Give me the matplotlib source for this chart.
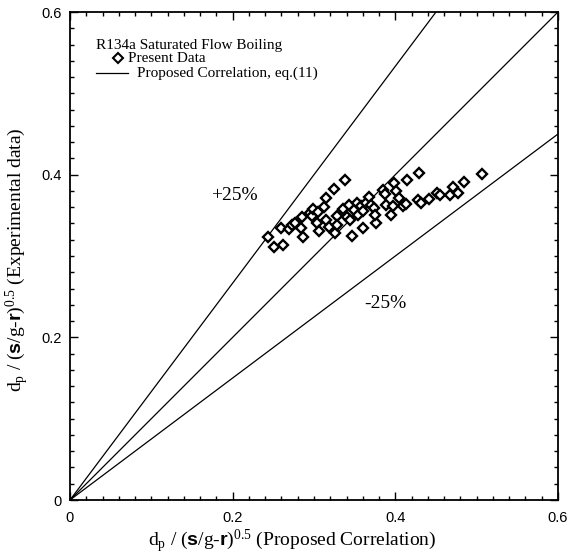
import numpy as np
import matplotlib
matplotlib.use("Agg")
import matplotlib.pyplot as plt
from matplotlib.ticker import MultipleLocator, FixedLocator

# measured vs predicted dimensionless bubble departure diameter
pred = [0.244, 0.251, 0.262, 0.259, 0.269, 0.273, 0.277, 0.284, 0.285, 0.287,
        0.295, 0.298, 0.299, 0.304, 0.305, 0.306, 0.312, 0.315, 0.315, 0.319,
        0.325, 0.328, 0.326, 0.328, 0.338, 0.336, 0.341, 0.343, 0.344, 0.347,
        0.349, 0.353, 0.354, 0.358, 0.360, 0.360, 0.364, 0.368, 0.370, 0.374,
        0.376, 0.375, 0.385, 0.387, 0.398, 0.401, 0.414, 0.429, 0.389, 0.395,
        0.397, 0.405, 0.409, 0.413, 0.428, 0.432, 0.441, 0.451, 0.455, 0.467,
        0.471, 0.477, 0.484, 0.507]
exp = [0.323, 0.311, 0.314, 0.334, 0.333, 0.338, 0.341, 0.334, 0.348, 0.323,
       0.353, 0.349, 0.358, 0.341, 0.354, 0.331, 0.360, 0.371, 0.344, 0.336,
       0.382, 0.349, 0.328, 0.338, 0.394, 0.358, 0.348, 0.363, 0.344, 0.325,
       0.357, 0.365, 0.350, 0.362, 0.355, 0.334, 0.365, 0.373, 0.363, 0.359,
       0.341, 0.350, 0.381, 0.376, 0.390, 0.380, 0.394, 0.402, 0.363, 0.350,
       0.362, 0.371, 0.362, 0.364, 0.369, 0.365, 0.370, 0.378, 0.375, 0.375,
       0.385, 0.378, 0.391, 0.401]

# correlation line and +/-25% bands
factors = [1.0, 1 / 0.75, 0.75]
tick_vals = [0, 0.2, 0.4, 0.6]
tick_labels = ["0", "0.2", "0.4", "0.6"]

plt.rcParams["mathtext.fontset"] = "custom"
plt.rcParams["mathtext.rm"] = "Liberation Serif"
plt.rcParams["mathtext.it"] = "Liberation Serif:italic"
plt.rcParams["mathtext.bf"] = "Liberation Sans:bold"

fig = plt.figure(figsize=(5.67, 5.56), dpi=100)
W, H = 567, 556
ax = fig.add_axes([70 / W, 56 / H, 488 / W, 488 / H])

xs = np.array([0, 0.6])
for f in factors:
    ax.plot(xs, f * xs, color="black", lw=0.9)

ax.plot(pred, exp, linestyle="none", marker="D", markersize=5.6,
        markerfacecolor="white", markeredgecolor="black", markeredgewidth=1.7)

ax.set_xlim(0, 0.6)
ax.set_ylim(0, 0.6)
for axis in (ax.xaxis, ax.yaxis):
    axis.set_major_locator(FixedLocator(tick_vals))
    axis.set_minor_locator(MultipleLocator(0.02))
ax.set_xticklabels(tick_labels, family="Liberation Sans", fontsize=10.5)
ax.set_yticklabels(tick_labels, family="Liberation Sans", fontsize=10.5)
ax.tick_params(which="both", direction="in", top=True, right=True, width=1)
ax.tick_params(which="major", length=5.5, pad=6)
ax.tick_params(axis="x", which="major", pad=8)
ax.tick_params(which="minor", length=2.8)
for s in ax.spines.values():
    s.set_linewidth(1.3)

lab = r"d$_{\rm p}$ / ($\mathbf{s}$/g-$\mathbf{r}$)$^{0.5}$"
ax.set_xlabel(lab + " (Proposed Correlation)", family="Liberation Serif",
              fontsize=14)
ax.set_ylabel(lab + " (Experimental data)", family="Liberation Serif",
              fontsize=14)
ax.xaxis.set_label_coords((292 - 70) / 488, -0.058)
ax.yaxis.set_label_coords(-0.08, (500 - 260) / 488)


def axpos(px, py):
    return (px - 70) / 488, (500 - py) / 488


serif = dict(family="Liberation Serif", fontsize=11, transform=ax.transAxes,
             va="center")
ax.text(*axpos(96, 45), "R134a Saturated Flow Boiling", **serif)
ax.plot(*axpos(118, 58), marker="D", markersize=5, markerfacecolor="white",
        markeredgecolor="black", markeredgewidth=1.5, transform=ax.transAxes)
ax.text(*axpos(128, 58), "Present Data", **serif)
x0, y0 = axpos(96, 73)
x1, _ = axpos(128, 73)
ax.plot([x0, x1], [y0, y0], color="black", lw=0.9, transform=ax.transAxes)
ax.text(*axpos(137, 73), "Proposed Correlation, eq.(11)", **serif)

ax.text(*axpos(234, 196), "+25%", ha="center", **dict(serif, fontsize=14))
ax.text(*axpos(385, 303), "-25%", ha="center", **dict(serif, fontsize=14))

fig.savefig("out.png", dpi=100)
